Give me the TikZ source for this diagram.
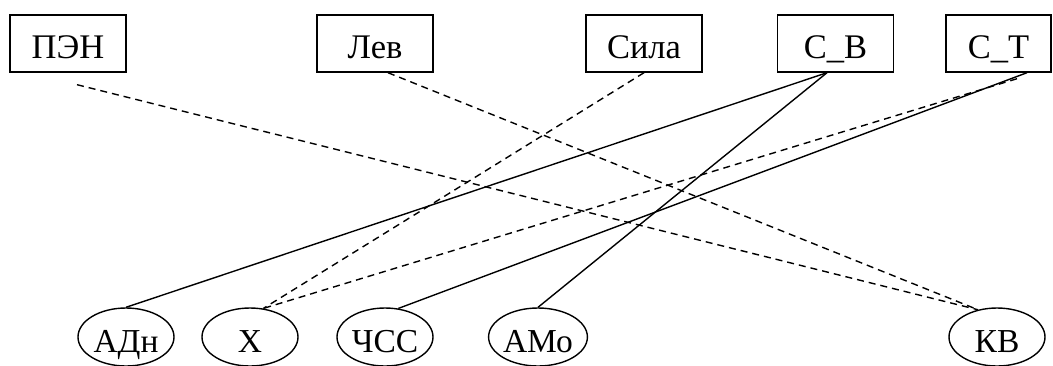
\documentclass[tikz,border=0pt]{standalone}
\usepackage{fontspec}
\setmainfont{Liberation Serif}
\usetikzlibrary{shapes.geometric}
\begin{document}
\begin{tikzpicture}[x=1pt,y=-1pt,
  factor/.style={draw, line width=1.4pt, rectangle, minimum width=116pt,
    text height=29pt, text depth=0pt, inner ysep=14pt, inner xsep=0pt,
    font=\fontsize{34.5}{40}\selectfont},
  index/.style={draw, line width=1.4pt, ellipse, minimum width=96pt,
    minimum height=58pt, inner sep=0pt, text height=30pt, text depth=0pt,
    font=\fontsize{33.5}{40}\selectfont},
  link/.style={line width=1.4pt},
  weak/.style={link, dash pattern=on 7pt off 5pt}]
\useasboundingbox (0,0) rectangle (1053,365);

% factors (top row)
\node[factor] (pen)  at (68,43.5)    {ПЭН};
\node[factor] (lev)  at (375,43.5)   {Лев};
\node[factor] (sila) at (644,43.5)   {Сила};
\node[factor] (sv)   at (835.5,43.5) {С\_В};
\node[factor, minimum width=105pt] (st) at (998.5,43.5) {С\_Т};

% indices (bottom row)
\node[index] (adn)  at (126,337) {АДн};
\node[index] (x)    at (250,337) {Х};
\node[index] (chss) at (385,337) {ЧСС};
\node[index] (amo)  at (538,337) {АМо};
\node[index] (kv)   at (997,337) {КВ};

% free ends of the two detached links
\coordinate (penout) at ([shift={(9pt,-12pt)}]pen.south);
\coordinate (stout)  at ([shift={(18.5pt,-6pt)}]st.south);

% weak (dashed) links
\draw[weak] (penout) -- (kv.125);
\draw[weak] ([xshift=13pt]lev.south) -- (kv.125);
\draw[weak] (sila.south) -- (x.65);
\draw[weak] (stout) -- (x.65);

% strong (solid) links
\draw[link] ([xshift=-8.5pt]sv.south) -- (adn.north);
\draw[link] ([xshift=-8.5pt]sv.south) -- (amo.north);
\draw[link] ([xshift=28.5pt]st.south) -- (chss.65);
\end{tikzpicture}
\end{document}
